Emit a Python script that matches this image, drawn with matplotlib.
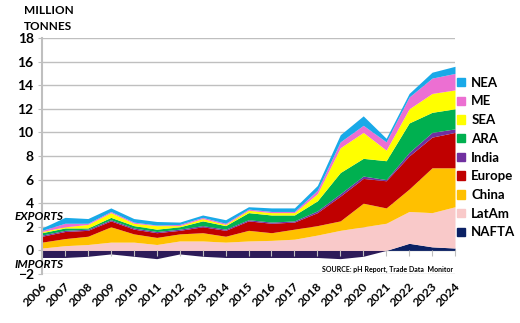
import matplotlib
matplotlib.use("Agg")
import matplotlib.pyplot as plt
import numpy as np
from matplotlib.patches import Patch

years = list(range(2006, 2025))

# million tonnes per region (NAFTA negative = net imports)
nafta = [-0.6, -0.6, -0.5, -0.3, -0.5, -0.7, -0.3, -0.5, -0.6, -0.6,
         -0.6, -0.6, -0.6, -0.7, -0.5, 0.0, 0.6, 0.3, 0.2]
latam = [0.2, 0.4, 0.5, 0.7, 0.7, 0.5, 0.8, 0.8, 0.7, 0.8,
         0.85, 0.95, 1.3, 1.7, 2.0, 2.3, 2.7, 2.9, 3.5]
china = [0.5, 0.6, 0.7, 1.3, 0.7, 0.6, 0.6, 0.7, 0.5, 0.9,
         0.65, 0.85, 0.8, 0.8, 2.0, 1.3, 1.9, 3.8, 3.3]
europe = [0.5, 0.6, 0.5, 0.5, 0.4, 0.4, 0.3, 0.5, 0.5, 0.8,
          0.8, 0.6, 1.1, 2.1, 2.1, 2.3, 2.8, 2.6, 3.0]
india = [0.1, 0.1, 0.1, 0.1, 0.1, 0.1, 0.1, 0.1, 0.1, 0.1,
         0.1, 0.1, 0.15, 0.2, 0.2, 0.1, 0.3, 0.4, 0.3]
ara = [0.2, 0.2, 0.1, 0.2, 0.2, 0.2, 0.2, 0.4, 0.3, 0.6,
       0.6, 0.5, 0.85, 1.8, 1.5, 1.6, 2.5, 1.7, 1.7]
sea = [0.1, 0.1, 0.3, 0.4, 0.2, 0.3, 0.1, 0.2, 0.1, 0.2,
       0.2, 0.2, 0.6, 2.1, 2.2, 0.9, 1.2, 1.6, 1.6]
me = [0.1, 0.3, 0.1, 0.1, 0.1, 0.05, 0.1, 0.1, 0.1, 0.1,
      0.1, 0.1, 0.3, 0.5, 0.6, 0.7, 1.0, 1.3, 1.4]
nea = [0.2, 0.5, 0.4, 0.3, 0.3, 0.3, 0.2, 0.2, 0.3, 0.2,
       0.3, 0.3, 0.4, 0.6, 0.8, 0.3, 0.3, 0.5, 0.6]

names = ["LatAm", "China", "Europe", "India", "ARA", "SEA", "ME", "NEA"]
series = [latam, china, europe, india, ara, sea, me, nea]
colors = ["#F9C9C9", "#FFC000", "#C00000", "#7030A0", "#00B050",
          "#FFFF00", "#EC6FD2", "#19A9E8"]
nafta_col = "#0B2164"
nafta_neg_col = "#2D1B59"
grid_col = "#BFBFBF"

plt.rcParams["font.family"] = ["Lato", "DejaVu Sans"]
plt.rcParams["font.weight"] = "bold"

fig = plt.figure(figsize=(5.2, 3.23), dpi=100)
ax = fig.add_axes([0.0808, 0.1517, 0.7942, 0.7307])

x = np.arange(len(years))
nf = np.array(nafta)
ax.fill_between(x, 0, nf, where=nf <= 0, interpolate=True, color=nafta_neg_col, lw=0, zorder=2)
ax.fill_between(x, 0, nf, where=nf >= 0, interpolate=True, color=nafta_col, lw=0, zorder=2)

base = np.maximum(nf, 0)
for vals, c in zip(series, colors):
    top = base + np.array(vals)
    ax.fill_between(x, base, top, color=c, lw=0, zorder=2)
    base = top

ax.set_xlim(0, len(years) - 1)
ax.set_ylim(-2, 18)
ax.set_yticks(range(-2, 19, 2))
ax.set_axisbelow(True)
ax.grid(axis="y", color=grid_col, lw=1)
ax.tick_params(axis="y", length=3, color=grid_col, labelsize=10, pad=3)

ax.set_xticks(x)
ax.tick_params(axis="x", direction="out", length=4, color=grid_col, labelbottom=False)
ax.xaxis.set_zorder(3)
ax.spines["bottom"].set_position(("data", 0))
ax.spines["bottom"].set_color(grid_col)
ax.spines["bottom"].set_zorder(1)
for s in ["top", "right"]:
    ax.spines[s].set_visible(False)
ax.spines["left"].set_color(grid_col)
ax.spines["left"].set_linewidth(1.5)

for i, y in enumerate(years):
    ax.text(i + 0.3, -2.55, str(y), rotation=45, ha="right", va="top", fontsize=8.8, fontweight="bold")

ax.text(17.9, -1.6, "SOURCE: pH Report, Trade Data  Monitor", ha="right", va="center",
        fontsize=5.0, fontweight="bold", zorder=4)

fig.text(24 / 520, 1 - 11 / 323, "MILLION", ha="left", va="center", fontsize=8.5, fontweight="bold")
fig.text(24 / 520, 1 - 26 / 323, "TONNES", ha="left", va="center", fontsize=8.5, fontweight="bold")
fig.text(15 / 520, 1 - 216 / 323, "EXPORTS", ha="left", va="center", fontsize=8.5,
         fontweight="bold", style="italic", zorder=5)
fig.text(15 / 520, 1 - 264 / 323, "IMPORTS", ha="left", va="center", fontsize=8.5,
         fontweight="bold", style="italic", zorder=5)

handles = [Patch(color=c, label=n) for n, c in zip(names, colors)][::-1]
handles.append(Patch(color=nafta_col, label="NAFTA"))
fig.legend(handles=handles, loc="upper left", bbox_to_anchor=(454 / 520, 1 - 74 / 323),
           frameon=False, handlelength=0.6, handleheight=0.6,
           handletextpad=0.5, labelspacing=0.51, borderaxespad=0, borderpad=0.2,
           prop={"weight": "bold", "size": 9.5})

fig.savefig("out.png", dpi=100)
